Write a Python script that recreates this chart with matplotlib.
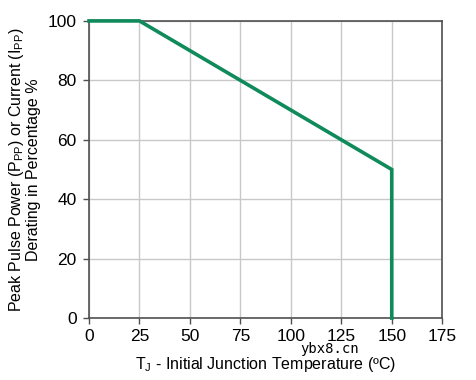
import matplotlib
matplotlib.use("Agg")
import matplotlib.pyplot as plt

# derating curve: temperature (C) vs percentage
temp_c = [0, 25, 150, 150]
derating_pct = [100, 100, 50, 0]

x_ticks = [0, 25, 50, 75, 100, 125, 150, 175]
y_ticks = [0, 20, 40, 60, 80, 100]

plt.rcParams['font.family'] = ['Liberation Sans', 'DejaVu Sans']
plt.rcParams['mathtext.fontset'] = 'custom'
plt.rcParams['mathtext.rm'] = 'Liberation Sans'
plt.rcParams['mathtext.it'] = 'Liberation Sans'

fig = plt.figure(figsize=(4.76, 3.8), dpi=100)
ax = fig.add_axes([0.187, 0.163, 0.742, 0.782])

ax.plot(temp_c, derating_pct, color='#0f8a5b', linewidth=2.6, solid_joinstyle='miter',
        zorder=3, clip_on=False)

ax.set_xlim(0, 175)
ax.set_ylim(0, 100)
ax.set_xticks(x_ticks)
ax.set_yticks(y_ticks)
ax.grid(True, color='#c8c8c8', linewidth=1.0)
ax.set_axisbelow(True)

for s in ax.spines.values():
    s.set_color('#505050')
    s.set_linewidth(1.2)

ax.tick_params(axis='both', labelsize=12.5, colors='#505050', length=4, width=1,
               labelcolor='black', pad=5)
ax.tick_params(axis='x', pad=4)

ax.set_xlabel(r'T$_{\mathregular{J}}$ - Initial Junction Temperature (ºC)', fontsize=11.5, labelpad=8)
ax.set_ylabel('Peak Pulse Power (P$_{\\mathregular{PP}}$) or Current (I$_{\\mathregular{PP}}$)\nDerating in Percentage %',
              fontsize=11.5, labelpad=5, linespacing=1.0)

# watermark, sits between the tick labels and the axis title like in the source
fig.text(0.692, 0.081, 'ybx8.cn', fontsize=10, family='DejaVu Sans Mono', color='black',
         ha='center', va='center')

fig.savefig('out.png', dpi=100)
